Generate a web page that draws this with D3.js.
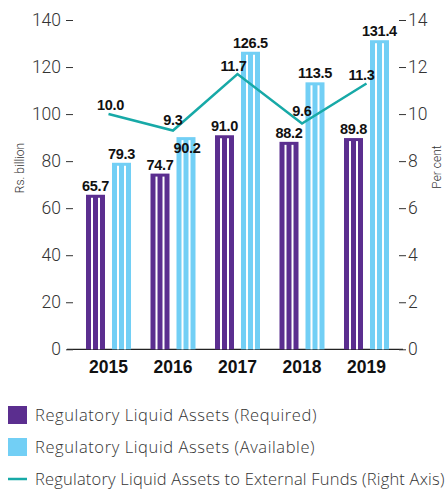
<!DOCTYPE html>
<html>
<head>
<meta charset="utf-8">
<script src="https://cdn.jsdelivr.net/npm/d3@7"></script>
<style>
  html, body { margin: 0; padding: 0; background: #fff; }
  svg { display: block; }
  .light { font-family: Roboto, "Liberation Sans", sans-serif; font-weight: 300; fill: #333; }
  .legend { font-family: "Open Sans", Roboto, sans-serif; font-weight: 300; fill: #333; }
  .bold { font-family: "Liberation Sans", Arial, sans-serif; font-weight: bold; fill: #111; }
</style>
</head>
<body>
<svg id="chart" width="446" height="490"></svg>
<script>
// Regulatory liquid assets, Rs. billion, and ratio to external funds, per cent
const years = ["2015", "2016", "2017", "2018", "2019"];
const required = [65.7, 74.7, 91.0, 88.2, 89.8];
const available = [79.3, 90.2, 126.5, 113.5, 131.4];
const ratio = [10.0, 9.3, 11.7, 9.6, 11.3];
const leftTicks = [0, 20, 40, 60, 80, 100, 120, 140];
const rightTicks = [0, 2, 4, 6, 8, 10, 12, 14];
const legendLabels = [
  "Regulatory Liquid Assets (Required)",
  "Regulatory Liquid Assets (Available)",
  "Regulatory Liquid Assets to External Funds (Right Axis)"
];

const purple = "#5b2e8f";
const blue = "#72cff5";
const teal = "#17a9a7";

const svg = d3.select("#chart");

const x = d3.scalePoint().domain(years).range([108.5, 366.5]);
const yL = d3.scaleLinear().domain([0, 140]).range([349.3, 20]);
const yR = d3.scaleLinear().domain([0, 14]).range([349.3, 20]);

const barW = 19, offset = 13;

// baseline
svg.append("line")
  .attr("x1", 67).attr("x2", 403)
  .attr("y1", yL(0)).attr("y2", yL(0))
  .attr("stroke", "#222").attr("stroke-width", 1.2);

// left axis: tick dashes + labels
const gL = svg.append("g").attr("transform", "translate(73,0)");
gL.call(d3.axisLeft(yL).tickValues(leftTicks).tickSize(7).tickPadding(5))
  .call(g => g.select(".domain").remove())
  .call(g => g.selectAll(".tick line").attr("stroke", "#333").attr("stroke-width", 1))
  .call(g => g.selectAll(".tick text").attr("class", "light").attr("font-size", 17.5).attr("fill", "#333"));

// right axis
const gR = svg.append("g").attr("transform", "translate(399,0)");
gR.call(d3.axisRight(yR).tickValues(rightTicks).tickSize(7).tickPadding(2))
  .call(g => g.select(".domain").remove())
  .call(g => g.selectAll(".tick line").attr("stroke", "#333").attr("stroke-width", 1))
  .call(g => g.selectAll(".tick text").attr("class", "light").attr("font-size", 17.5).attr("fill", "#333"));

// axis titles
svg.append("text").attr("class", "light")
  .attr("transform", `translate(24,${168}) rotate(-90)`)
  .attr("text-anchor", "middle").attr("font-size", 12)
  .text("Rs. billion");
svg.append("text").attr("class", "light")
  .attr("transform", `translate(441,${167}) rotate(-90)`)
  .attr("text-anchor", "middle").attr("font-size", 12)
  .text("Per cent");

// striped bars; value label above the bar, or inside its top when flagged
function drawBars(values, color, dx, inside) {
  const g = svg.append("g");
  values.forEach((v, i) => {
    const x0 = x(years[i]) + dx - barW / 2;
    const top = yL(v);
    const bottom = yL(0);
    g.append("rect")
      .attr("x", x0).attr("y", top)
      .attr("width", barW).attr("height", bottom - top)
      .attr("fill", color);
    [5, 12].forEach(s => {
      g.append("rect")
        .attr("x", x0 + s).attr("y", top + 3)
        .attr("width", 2).attr("height", bottom - top - 3)
        .attr("fill", "#fff");
    });
    const isIn = inside.includes(i);
    g.append("text").attr("class", "bold")
      .attr("x", x0 + barW / 2 + (isIn ? 1 : 0))
      .attr("y", isIn ? top + 16 : top - 4)
      .attr("text-anchor", "middle").attr("font-size", 14.5)
      .attr("letter-spacing", -0.3)
      .text(v.toFixed(1));
  });
}
drawBars(required, purple, -offset, []);
drawBars(available, blue, offset, [1]);

// ratio line
const line = d3.line().x((d, i) => x(years[i])).y(d => yR(d));
svg.append("path").datum(ratio)
  .attr("d", line).attr("fill", "none")
  .attr("stroke", teal).attr("stroke-width", 2.5)
  .attr("stroke-linejoin", "miter");

const lblDx = [2, 0, -4, 0, -5];
const lblDy = [4, 6, 3, 7, 4];
svg.append("g").selectAll("text").data(ratio).join("text")
  .attr("class", "bold")
  .attr("x", (d, i) => x(years[i]) + lblDx[i])
  .attr("y", (d, i) => yR(d) - lblDy[i])
  .attr("text-anchor", "middle").attr("font-size", 14.5)
  .attr("letter-spacing", -0.3)
  .text(d => d.toFixed(1));

// year labels
svg.append("g").selectAll("text").data(years).join("text")
  .attr("class", "bold")
  .attr("x", d => x(d)).attr("y", 373)
  .attr("text-anchor", "middle").attr("font-size", 17.5)
  .text(d => d);

// legend
const leg = svg.append("g");
const rowY = [415, 447, 479];
leg.append("rect").attr("x", 8).attr("y", rowY[0] - 9).attr("width", 19).attr("height", 18).attr("fill", purple);
leg.append("rect").attr("x", 8).attr("y", rowY[1] - 9).attr("width", 19).attr("height", 18).attr("fill", blue);
leg.append("line").attr("x1", 8).attr("x2", 27).attr("y1", rowY[2]).attr("y2", rowY[2])
  .attr("stroke", teal).attr("stroke-width", 2.5);
leg.selectAll("text").data(legendLabels).join("text")
  .attr("class", "legend")
  .attr("x", 35).attr("y", (d, i) => rowY[i] + 6)
  .attr("font-size", 16.5)
  .attr("letter-spacing", (d, i) => i === 2 ? 0.2 : 0.6)
  .text(d => d);
</script>
</body>
</html>
